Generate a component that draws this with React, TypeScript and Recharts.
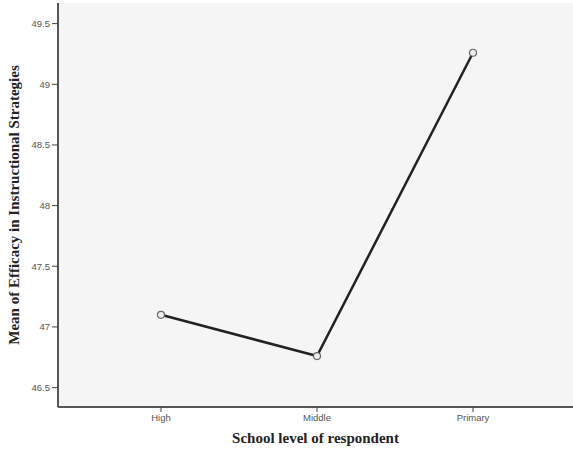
import React from "react";
import { CartesianGrid, Line, LineChart, XAxis, YAxis } from "recharts";

const schoolLevels = ["High", "Middle", "Primary"];
const meanEfficacy = [47.1, 46.76, 49.26];
const yTicks = [46.5, 47, 47.5, 48, 48.5, 49, 49.5];

const data = schoolLevels.map((level, i) => ({ level, mean: meanEfficacy[i] }));

const tickStyle = { fontSize: 9.5, fill: "#555", fontFamily: "Arial, 'Liberation Sans', sans-serif" };
const labelFont = "'Liberation Serif', 'DejaVu Serif', serif";

export default function App() {
  return (
    <div style={{ position: "absolute", left: 0, top: 0, width: 573, height: 454, background: "#fff" }}>
      <LineChart width={573} height={454} data={data} margin={{ top: 3, right: 0, bottom: 0, left: 0 }}>
        <CartesianGrid fill="#f5f5f5" horizontal={false} vertical={false} />
        <XAxis
          xAxisId="top"
          orientation="top"
          dataKey="level"
          height={0}
          tick={false}
          tickLine={false}
          axisLine={{ stroke: "#8a8a8a", strokeWidth: 3 }}
          padding={{ left: 103, right: 100 }}
        />
        <XAxis
          dataKey="level"
          height={47}
          padding={{ left: 103, right: 100 }}
          tick={tickStyle}
          tickLine={{ stroke: "#444" }}
          tickSize={5}
          axisLine={{ stroke: "#555", strokeWidth: 2 }}
          label={{
            value: "School level of respondent",
            position: "insideBottom",
            offset: 11,
            style: { fontFamily: labelFont, fontWeight: "bold", fontSize: 15, fill: "#222" },
          }}
        />
        <YAxis
          width={58}
          type="number"
          domain={[46.34, 49.67]}
          ticks={yTicks}
          tick={tickStyle}
          tickLine={{ stroke: "#444" }}
          tickSize={6}
          axisLine={{ stroke: "#555", strokeWidth: 2 }}
          label={{
            value: "Mean of Efficacy in Instructional Strategies",
            angle: -90,
            position: "insideLeft",
            offset: 14,
            style: { textAnchor: "middle", fontFamily: labelFont, fontWeight: "bold", fontSize: 15, fill: "#222" },
          }}
        />
        <Line
          type="linear"
          dataKey="mean"
          stroke="#222"
          strokeWidth={2.5}
          dot={{ r: 3.5, stroke: "#666", strokeWidth: 1.2, fill: "#eee" }}
          isAnimationActive={false}
        />
      </LineChart>
    </div>
  );
}
